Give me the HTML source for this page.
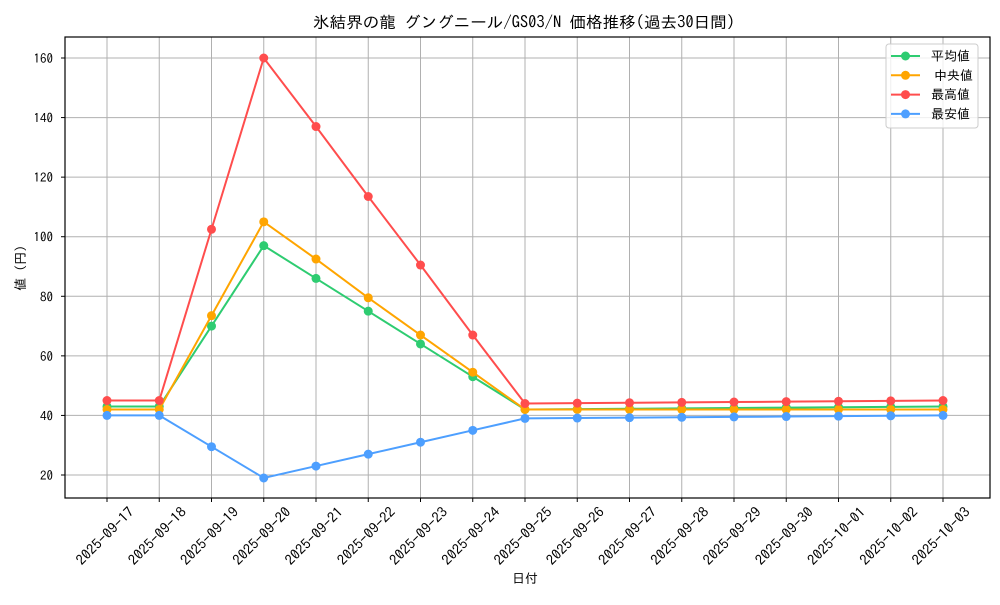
<!DOCTYPE html>
<html><head><meta charset="utf-8"><style>
body{margin:0;background:#fff}
svg text{font-family:"IPAGothic","Noto Sans CJK JP",monospace;fill:#000}
</style></head><body>
<svg id="s" width="1000" height="600" xmlns="http://www.w3.org/2000/svg"></svg>
<script>
const s=document.getElementById('s');
const L=65,R=990,T=37,B=498;
const y=v=>475-(v-20)*(417/140);
const x=i=>107+i*52.25;
const dates=["2025-09-17","2025-09-18","2025-09-19","2025-09-20","2025-09-21","2025-09-22","2025-09-23","2025-09-24","2025-09-25","2025-09-26","2025-09-27","2025-09-28","2025-09-29","2025-09-30","2025-10-01","2025-10-02","2025-10-03"];
function tail(a,b){let r=[];for(let i=0;i<8;i++)r.push(a+(b-a)*(i+1)/8);return r;}
const ser=[
["平均値","#2ecc71",[43,43,70,97,86,75,64,53,42].concat(tail(42,43))],
["中央値","#ffa500",[42,42,73.5,105,92.5,79.5,67,54.5,42].concat(tail(42,42))],
["最高値","#ff4d4d",[45,45,102.5,160,137,113.5,90.5,67,44].concat(tail(44,45))],
["最安値","#4d9fff",[40,40,29.5,19,23,27,31,35,39].concat(tail(39,40))]];
let h='';
for(let i=0;i<17;i++){h+=`<line x1="${x(i)}" y1="${T}" x2="${x(i)}" y2="${B}" stroke="#b0b0b0" stroke-width="1"/>`;
h+=`<line x1="${x(i)}" y1="${B}" x2="${x(i)}" y2="${B+4}" stroke="#000"/>`;
h+=`<text transform="translate(${x(i)-2},${536}) rotate(-45)" text-anchor="middle" dy="0.35em" font-size="14" textLength="75" lengthAdjust="spacingAndGlyphs">${dates[i]}</text>`;}
for(let v=20;v<=160;v+=20){h+=`<line x1="${L}" y1="${y(v)}" x2="${R}" y2="${y(v)}" stroke="#b0b0b0"/>`;
h+=`<line x1="${L-4}" y1="${y(v)}" x2="${L}" y2="${y(v)}" stroke="#000"/>`;
h+=`<text x="${L-12}" y="${y(v)+5}" text-anchor="end" font-size="13">${v}</text>`;}
for(const [n,c,d] of ser){h+=`<polyline fill="none" stroke="${c}" stroke-width="2" points="${d.map((v,i)=>x(i)+','+y(v)).join(' ')}"/>`;
d.forEach((v,i)=>h+=`<circle cx="${x(i)}" cy="${y(v)}" r="4.5" fill="${c}"/>`);}
h+=`<rect x="${L}" y="${T}" width="${R-L}" height="${B-T}" fill="none" stroke="#000" stroke-width="1.2"/>`;
h+=`<rect x="886" y="44" width="92" height="84" rx="3" fill="#fff" fill-opacity="0.8" stroke="#ccc"/>`;
ser.forEach(([n,c],k)=>{const yy=56+k*19.3;h+=`<line x1="891" y1="${yy}" x2="920" y2="${yy}" stroke="${c}" stroke-width="2"/><circle cx="905.5" cy="${yy}" r="4.5" fill="${c}"/><text x="${k==1?934:931}" y="${yy+4.5}" font-size="13">${n}</text>`;});
h+=`<text x="524" y="28" text-anchor="middle" font-size="16" textLength="422" lengthAdjust="spacingAndGlyphs">氷結界の龍 グングニール/GS03/N 価格推移(過去30日間)</text>`;
h+=`<text x="525" y="583" text-anchor="middle" font-size="13">日付</text>`;
h+=`<text transform="translate(25,268) rotate(-90)" text-anchor="middle" font-size="13">値 (円)</text>`;
s.innerHTML=h;
</script>
</body></html>
